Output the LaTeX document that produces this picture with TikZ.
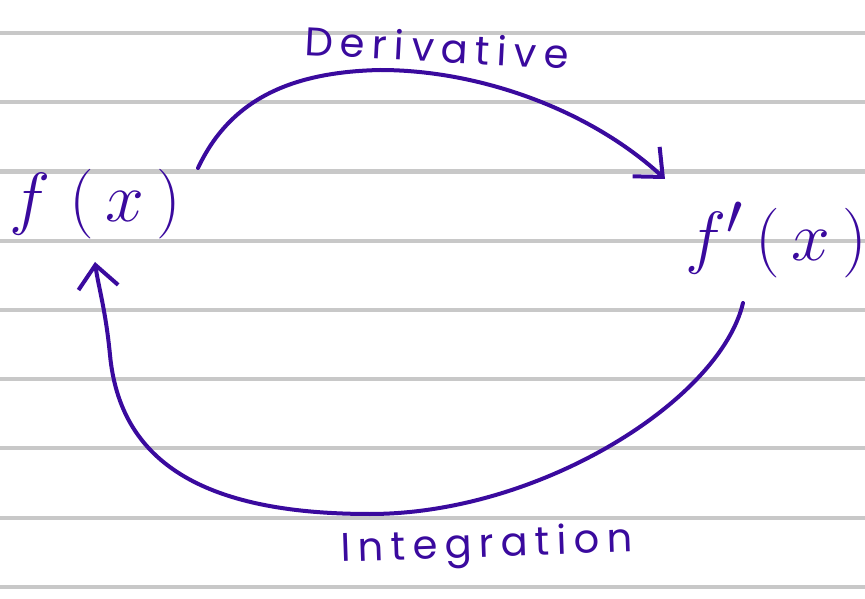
\documentclass[tikz,border=0pt]{standalone}
\usepackage{fontspec}
\setmainfont{Poppins}
\usetikzlibrary{arrows.meta}
\definecolor{ink}{HTML}{3A0A9E}
\definecolor{rule}{HTML}{C8C8C8}
\begin{document}
\begin{tikzpicture}[x=0.75pt,y=-0.75pt,
  ruleline/.style={draw=rule,line width=3.4pt},
  pen/.style={draw=ink,line width=3pt,line cap=round,line join=round},
  arrowpen/.style={pen,-{Straight Barb[length=17pt,width=30pt,line width=3pt]}},
  mathlbl/.style={text=ink,inner sep=0pt,font=\fontsize{24.88}{30}\selectfont},
  wordlbl/.style={text=ink,inner sep=0pt,font=\fontsize{30}{36}\selectfont\addfontfeature{LetterSpace=18}}]
\useasboundingbox (0,0) rectangle (865,599);
\fill[white] (0,0) rectangle (865,599);
\foreach \yy in {33,102,171.5,241,310,379,448,518,587}
  \draw[ruleline] (0,\yy) -- (865,\yy);
\node[mathlbl] (f) at (95,204) {\scalebox{2.1}{$f\;(\,x\,)$}};
\node[mathlbl] (fp) at (776,240) {\scalebox{2.1}{$f'\,(\,x\,)$}};
\node[wordlbl,rotate=-3] (der) at (437,47) {Derivative};
\node[wordlbl,rotate=2] (int) at (487,547) {Integration};
\coordinate (a1) at (198,168);
\coordinate (a2) at (665,179);
\coordinate (b1) at (743,303);
\coordinate (b2) at (95,262);
\draw[arrowpen] (a1) .. controls (230,100) and (290,72) .. (380,70)
  .. controls (480,70) and (590,110) .. (a2);
\draw[arrowpen] (b1) .. controls (720,400) and (540,514) .. (370,514)
  .. controls (200,514) and (120,460) .. (110,355)
  .. controls (105.7,310) and (98,285) .. (b2);
\end{tikzpicture}
\end{document}
